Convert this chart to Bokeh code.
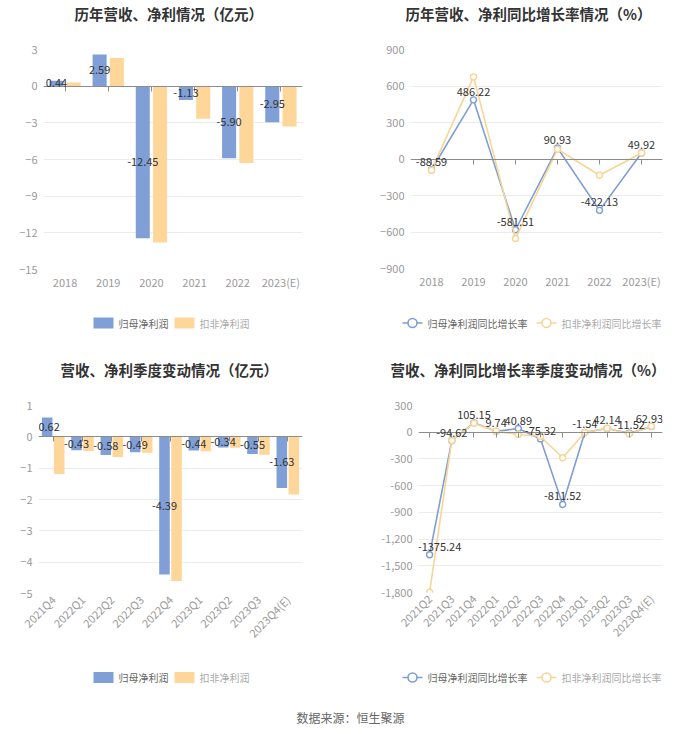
from math import pi
from bokeh.plotting import figure
from bokeh.models import (Range1d, FactorRange, FixedTicker, CategoricalAxis,
                          ColumnDataSource, NumeralTickFormatter, LabelSet)
from bokeh.transform import dodge
from bokeh.layouts import column, row
from bokeh.core.properties import value
from bokeh.embed import file_html
from bokeh.resources import INLINE

FONT = "Noto Sans CJK SC"
BLUE = "#7F9FD6"
ORANGE = "#FFD699"
LBLUE = "#7E9ED5"
LORANGE = "#F8D596"

# ---------------- data ----------------
years = ["2018", "2019", "2020", "2021", "2022", "2023(E)"]
np_parent = [0.44, 2.59, -12.45, -1.13, -5.90, -2.95]
np_deduct = [0.30, 2.30, -12.80, -2.67, -6.28, -3.30]

yoy_parent = [-88.59, 486.22, -581.51, 90.93, -422.13, 49.92]
yoy_deduct = [-93, 675, -654, 80, -134, 49]

quarters = ["2021Q4", "2022Q1", "2022Q2", "2022Q3", "2022Q4",
            "2023Q1", "2023Q2", "2023Q3", "2023Q4(E)"]
q_parent = [0.62, -0.43, -0.58, -0.49, -4.39, -0.44, -0.34, -0.55, -1.63]
q_deduct = [-1.19, -0.45, -0.64, -0.51, -4.60, -0.46, -0.35, -0.57, -1.84]

qyoy_quarters = ["2021Q2", "2021Q3", "2021Q4", "2022Q1", "2022Q2", "2022Q3",
                 "2022Q4", "2023Q1", "2023Q2", "2023Q3", "2023Q4(E)"]
qyoy_parent = [-1375.24, -94.62, 105.15, 9.74, 40.89, -75.32, -811.52, -1.54, 42.14, -11.52, 62.93]
qyoy_deduct = [-1798, -93, 100, 10, -26, -48, -287, -3, 45, -19, 67]

ticks_1 = [-15, -12, -9, -6, -3, 0, 3]
ticks_2 = [-900, -600, -300, 0, 300, 600, 900]
ticks_3 = [-5, -4, -3, -2, -1, 0, 1]
ticks_4 = [-1800, -1500, -1200, -900, -600, -300, 0, 300]

titles = ["历年营收、净利情况（亿元）", "历年营收、净利同比增长率情况（%）",
          "营收、净利季度变动情况（亿元）", "营收、净利同比增长率季度变动情况（%）"]
bar_names = ["归母净利润", "扣非净利润"]
line_names = ["归母净利润同比增长率", "扣非净利润同比增长率"]
source_text = "数据来源：恒生聚源"


def blank(w, h):
    """A figure whose frame is the whole canvas, with pixel coordinates (y downward)."""
    p = figure(width=w, height=h, x_range=Range1d(0, w), y_range=Range1d(h, 0),
               output_backend="svg", toolbar_location=None, x_axis_location=None,
               y_axis_location=None, min_border=0, outline_line_color=None, frame_align=False)
    p.grid.visible = False
    return p


def title_fig(w, h, x, y, txt):
    p = blank(w, h)
    src = ColumnDataSource(dict(x=[x], y=[y], t=[txt]))
    p.text(x='x', y='y', text='t', source=src, text_align='left', text_baseline='middle',
           text_font=value(FONT), text_font_size='14.5px', text_font_style='bold',
           text_color='#333333')
    return p


def legend_fig(w, h, y, names, kind, x1, x2):
    p = blank(w, h)
    cols = [BLUE, ORANGE] if kind == "bar" else [LBLUE, LORANGE]
    tcols = ["#666666", "#aaaaaa"]
    for xs, nm, c, tc in zip((x1, x2), names, cols, tcols):
        if kind == "bar":
            p.rect(x=[xs + 10], y=[y], width=[20], height=[11], fill_color=c, line_color=None)
        else:
            p.segment(x0=[xs], y0=[y], x1=[xs + 20], y1=[y], line_color=c, line_width=1.6)
            p.scatter(x=[xs + 10], y=[y], size=9, fill_color='white', line_color=c, line_width=1.6)
        src = ColumnDataSource(dict(x=[xs + 25], y=[y], t=[nm]))
        p.text(x='x', y='y', text='t', source=src, text_align='left', text_baseline='middle',
               text_font=value(FONT), text_font_size='10px', text_color=tc)
    return p


def chart(w, h, cats, yr, ticks, borders, rotate=False, comma=False):
    l, r, t, b = borders
    p = figure(width=w, height=h, x_range=FactorRange(*cats), y_range=Range1d(*yr),
               output_backend="svg", toolbar_location=None, frame_align=False,
               min_border_left=l, min_border_right=r, min_border_top=t, min_border_bottom=b,
               outline_line_color=None)
    p.xgrid.grid_line_color = None
    p.ygrid.ticker = FixedTicker(ticks=ticks)
    p.ygrid.grid_line_color = "#ececec"
    ya = p.yaxis[0]
    ya.ticker = FixedTicker(ticks=ticks)
    ya.axis_line_color = None
    ya.major_tick_line_color = None
    ya.minor_tick_line_color = None
    ya.major_tick_out = 0
    ya.major_label_text_color = "#9a9a9a"
    ya.major_label_text_font = FONT
    ya.major_label_text_font_size = "11px"
    ya.major_label_standoff = 6
    if comma:
        ya.formatter = NumeralTickFormatter(format="0,0")
    xa = p.xaxis[0]
    xa.axis_line_color = None
    xa.major_tick_line_color = None
    xa.major_tick_out = 0
    xa.major_tick_in = 0
    xa.major_label_text_color = "#9a9a9a"
    xa.major_label_text_font = FONT
    xa.major_label_text_font_size = "11px"
    xa.major_label_standoff = 4
    if rotate:
        xa.major_label_orientation = pi / 4
    za = CategoricalAxis(fixed_location=0, axis_line_color="#8c8c8c",
                         major_tick_line_color="#8c8c8c", major_tick_in=0, major_tick_out=5,
                         major_label_text_alpha=0, major_label_text_font_size="1px")
    p.add_layout(za, "below")
    return p


def add_labels(p, src_dict, xspec_fn, yfield, baseline, yoff, shifts):
    """Data labels; a few labels near the frame edge are nudged so they are not clipped."""
    n = len(src_dict['cat'])
    groups = {}
    for i in range(n):
        groups.setdefault(shifts.get(i, 0), []).append(i)
    for dx, idx in groups.items():
        sub = {k: [v[i] for i in idx] for k, v in src_dict.items()}
        s = ColumnDataSource(sub)
        p.add_layout(LabelSet(x=xspec_fn(p), y=yfield, text='lbl', source=s,
                              text_align='center', text_baseline=baseline, x_offset=dx,
                              y_offset=yoff, text_font=value(FONT), text_font_size='11px',
                              text_color='#333333'))


def bar_chart(p, cats, a, b, off, width, shifts=None):
    data = dict(cat=cats, a=a, b=b, amid=[v / 2 for v in a], lbl=[f"{v:.2f}" for v in a])
    src = ColumnDataSource(data)
    p.vbar(x=dodge('cat', -off, range=p.x_range), top='a', width=width, source=src,
           fill_color=BLUE, line_color=None)
    p.vbar(x=dodge('cat', off, range=p.x_range), top='b', width=width, source=src,
           fill_color=ORANGE, line_color=None)
    add_labels(p, data, lambda q: dodge('cat', -off, range=q.x_range), 'amid', 'middle', 0,
               shifts or {})


def line_chart(p, cats, a, b, shifts=None):
    data = dict(cat=cats, a=a, b=b, lbl=[f"{v:.2f}" for v in a])
    src = ColumnDataSource(data)
    p.line('cat', 'a', source=src, line_color=LBLUE, line_width=1.6)
    p.scatter('cat', 'a', source=src, size=6, fill_color='white', line_color=LBLUE, line_width=1.4)
    p.line('cat', 'b', source=src, line_color=LORANGE, line_width=1.6)
    p.scatter('cat', 'b', source=src, size=6, fill_color='white', line_color=LORANGE, line_width=1.4)
    add_labels(p, data, lambda q: 'cat', 'a', 'bottom', 4, shifts or {})


# ---------- panel 1 (x 0..352, y 0..350) ----------
t1 = title_fig(352, 30, 74, 12.5, titles[0])
p1 = chart(352, 270, years, (-15, 3), ticks_1, (43, 50, 19, 31))
bar_chart(p1, years, np_parent, np_deduct, 0.2, 0.325)
l1 = legend_fig(352, 50, 22.5, bar_names, "bar", 93, 174)

# ---------- panel 2 (x 352..700) ----------
t2 = title_fig(348, 30, 53, 12.5, titles[1])
p2 = chart(348, 270, years, (-900, 900), ticks_2, (58, 38, 19, 32))
line_chart(p2, years, yoy_parent, yoy_deduct)
l2 = legend_fig(348, 50, 22.5, line_names, "line", 50, 184)

# ---------- panel 3 (y 350..700) ----------
t3 = title_fig(352, 35, 60, 18.5, titles[2])
p3 = chart(352, 265, quarters, (-5, 1), ticks_3, (38, 50, 20, 57), rotate=True)
bar_chart(p3, quarters, q_parent, q_deduct, 0.205, 0.36, shifts={0: 2})
l3 = legend_fig(352, 50, 27, bar_names, "bar", 93, 174)

# ---------- panel 4 ----------
t4 = title_fig(348, 35, 38, 18.5, titles[3])
p4 = chart(348, 265, qyoy_quarters, (-1800, 300), ticks_4, (66, 38, 20, 58), rotate=True, comma=True)
line_chart(p4, qyoy_quarters, qyoy_parent, qyoy_deduct, shifts={0: 10, 10: -2})
l4 = legend_fig(348, 50, 27, line_names, "line", 50, 184)

# ---------- footer ----------
pf = blank(700, 34)
fsrc = ColumnDataSource(dict(x=[350], y=[17], t=[source_text]))
pf.text(x='x', y='y', text='t', source=fsrc, text_align='center', text_baseline='middle',
        text_font=value(FONT), text_font_size='12px', text_color='#666666')

layout = column(row(column(t1, p1, l1), column(t2, p2, l2)),
                row(column(t3, p3, l3), column(t4, p4, l4)),
                pf)

open("out.html", "w").write(file_html(layout, INLINE))
